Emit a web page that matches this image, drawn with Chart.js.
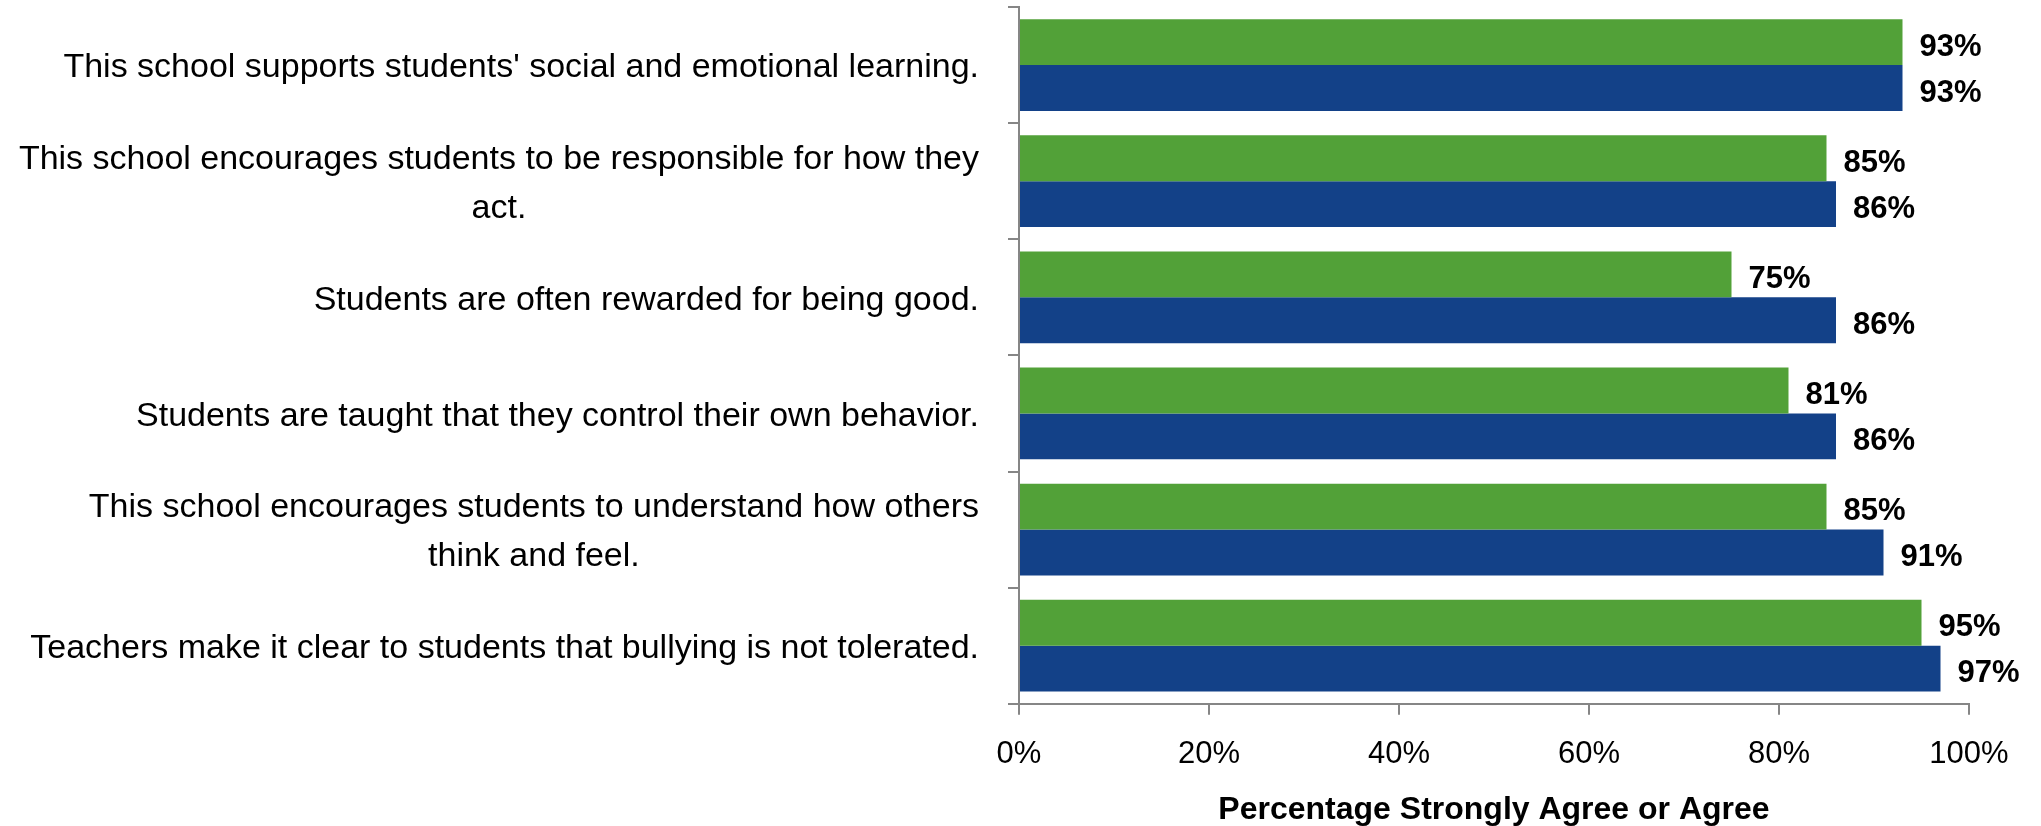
<!DOCTYPE html>
<html>
<head>
<meta charset="utf-8">
<script src="https://cdn.jsdelivr.net/npm/chart.js@4.4.1/dist/chart.umd.min.js"></script>
<style>
  html, body { margin: 0; padding: 0; background: #fff; }
  #wrap { width: 2041px; height: 826px; }
</style>
</head>
<body>
<div id="wrap"><canvas id="chart-area" width="2041" height="826"></canvas></div>
<script>
  // questions (multi-line ones are split like the original)
  var questions = [
    "This school supports students' social and emotional learning.",
    ["This school encourages students to be responsible for how they", "act."],
    "Students are often rewarded for being good.",
    "Students are taught that they control their own behavior.",
    ["This school encourages students to understand how others", "think and feel."],
    "Teachers make it clear to students that bullying is not tolerated."
  ];
  var seriesNames = ["School", "Comparison"];
  var greenValues = [93, 85, 75, 81, 85, 95];
  var blueValues = [93, 86, 86, 86, 91, 97];
  var xTicks = [0, 20, 40, 60, 80, 100];
  var axisTitle = "Percentage Strongly Agree or Agree";

  var FONT = "'Liberation Sans', Arial, sans-serif";
  var axisGrey = "#868686";

  // draws the question labels: block right aligned, lines centred inside it
  var questionLabels = {
    id: 'questionLabels',
    afterDraw: function(chart) {
      var ctx = chart.ctx;
      var yScale = chart.scales.y;
      var right = chart.chartArea.left - 40;
      ctx.save();
      ctx.font = "34px " + FONT;
      ctx.fillStyle = "#000";
      ctx.textBaseline = "middle";
      ctx.textAlign = "center";
      for (var i = 0; i < questions.length; i++) {
        var lines = Array.isArray(questions[i]) ? questions[i] : [questions[i]];
        var maxW = 0;
        lines.forEach(function(l) { maxW = Math.max(maxW, ctx.measureText(l).width); });
        var cy = yScale.getPixelForTick(i) + 3;
        var lh = 49;
        var y0 = cy - (lines.length - 1) * lh / 2;
        for (var j = 0; j < lines.length; j++) {
          ctx.fillText(lines[j], right - maxW / 2, y0 + j * lh);
        }
      }
      ctx.restore();
    }
  };

  // value labels at the end of each bar
  var valueLabels = {
    id: 'valueLabels',
    afterDatasetsDraw: function(chart) {
      var ctx = chart.ctx;
      ctx.save();
      ctx.font = "bold 31px " + FONT;
      ctx.fillStyle = "#000";
      ctx.textBaseline = "middle";
      ctx.textAlign = "left";
      chart.data.datasets.forEach(function(ds, di) {
        chart.getDatasetMeta(di).data.forEach(function(bar, i) {
          ctx.fillText(ds.data[i] + "%", bar.x + 17, bar.y + 5);
        });
      });
      ctx.restore();
    }
  };

  var config = {
    type: 'bar',
    data: {
      labels: questions,
      datasets: [{
        label: seriesNames[0],
        data: greenValues,
        backgroundColor: "#52a138",
        borderWidth: 0
      }, {
        label: seriesNames[1],
        data: blueValues,
        backgroundColor: "#134188",
        borderWidth: 0
      }]
    },
    options: {
      indexAxis: 'y',
      responsive: false,
      animation: false,
      layout: { padding: { left: 1008, right: 72, top: 7, bottom: 0 } },
      datasets: { bar: { categoryPercentage: 0.79, barPercentage: 1.0 } },
      plugins: {
        legend: { display: false },
        tooltip: { enabled: false }
      },
      scales: {
        x: {
          min: 0,
          max: 100,
          afterBuildTicks: function(axis) {
            axis.ticks = xTicks.map(function(v) { return { value: v }; });
          },
          ticks: {
            color: "#000",
            font: { family: FONT, size: 31 },
            padding: 21,
            callback: function(v) { return v + "%"; }
          },
          grid: {
            drawOnChartArea: false,
            drawTicks: true,
            tickLength: 11,
            color: axisGrey,
            lineWidth: 2
          },
          border: { color: axisGrey, width: 2 },
          title: {
            display: true,
            text: axisTitle,
            color: "#000",
            font: { family: FONT, size: 32, weight: 'bold', lineHeight: 1.0 },
            padding: { top: 0, bottom: 0 }
          }
        },
        y: {
          ticks: { display: false },
          grid: {
            offset: true,
            drawOnChartArea: false,
            drawTicks: true,
            tickLength: 11,
            color: axisGrey,
            lineWidth: 2
          },
          border: { color: axisGrey, width: 2 }
        }
      }
    },
    plugins: [questionLabels, valueLabels]
  };

  var ctx = document.getElementById("chart-area").getContext("2d");
  window.myBar = new Chart(ctx, config);
</script>
</body>
</html>
